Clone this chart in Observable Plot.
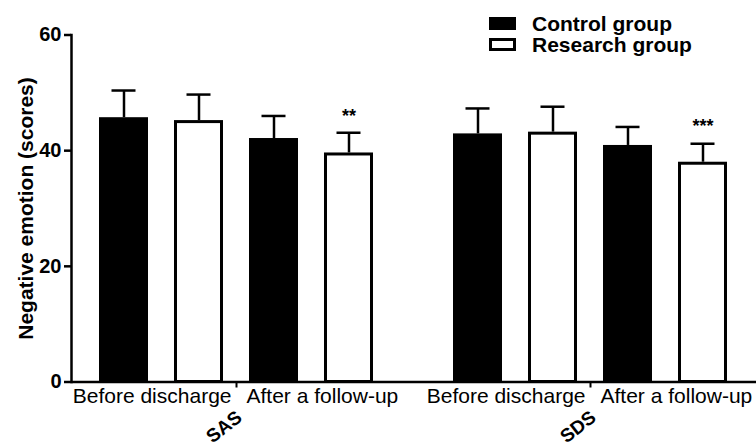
<!DOCTYPE html>
<html><head><meta charset="utf-8">
<script src="https://cdn.jsdelivr.net/npm/d3@7"></script>
<script src="https://cdn.jsdelivr.net/npm/@observablehq/plot@0.6"></script>
<style>
html,body{margin:0;padding:0;background:#fff;overflow:hidden}
#wrap{position:relative;width:756px;height:447px;font-family:"Liberation Sans",Arial,Helvetica,sans-serif}
#legend{position:absolute;left:489px;top:13px;font-size:21px;font-weight:bold;line-height:21px;color:#000}
.row{display:flex;align-items:center;height:21px;white-space:nowrap}
.sw{width:27px;height:13px;box-sizing:border-box;margin-right:16px;border:3px solid #000}
</style></head><body>
<div id="wrap"><div id="legend"></div></div>
<script>
// ---- data ----
const scales = ["SAS", "SDS"];
const times = ["Before discharge", "After a follow-up"];
const groups = ["Control group", "Research group"];
const groupFill = ["black", "white"];
// order within each scale: Before/Control, Before/Research, After/Control, After/Research
const sasMean = [45.7, 45.2, 42.1, 39.6];
const sasSD = [4.7, 4.5, 3.9, 3.5];
const sdsMean = [42.9, 43.2, 40.9, 38.0];
const sdsSD = [4.4, 4.4, 3.2, 3.2];
const sasSig = ["", "", "", "**"];
const sdsSig = ["", "", "", "***"];
const yTicks = [0, 20, 40, 60];
const yTitle = "Negative emotion (scores)";

const means = [sasMean, sdsMean], sds = [sasSD, sdsSD], sigs = [sasSig, sdsSig];
const rows = [];
scales.forEach((s, si) => {
  times.forEach((t, ti) => groups.forEach((g, gi) => {
    const k = ti * 2 + gi;
    rows.push({scale: s, time: t, group: g, key: t + "|" + g,
      mean: means[si][k], sd: sds[si][k], sig: sigs[si][k]});
  }));
});
const keys = rows.filter(d => d.scale === scales[0]).map(d => d.key);
const font = '"Liberation Sans", Arial, Helvetica, sans-serif';

const chart = Plot.plot({
  width: 756, height: 447,
  marginLeft: 70, marginRight: 0, marginTop: 34.5, marginBottom: 65.5,
  style: {fontFamily: font, background: "white", color: "black", overflow: "visible"},
  fx: {domain: scales, paddingInner: 0.067, paddingOuter: 0, axis: null},
  x: {domain: keys, padding: 0.345, axis: null},
  y: {domain: [0, 60]},
  color: {domain: groups, range: groupFill},
  marks: [
    Plot.barY(rows, {fx: "scale", x: "key", y: "mean", fill: "group", stroke: "black",
      strokeWidth: 3, insetLeft: 1.5, insetRight: 1.5, insetTop: 1.5}),
    Plot.ruleX(rows, {fx: "scale", x: "key", y1: "mean", y2: d => d.mean + d.sd, stroke: "black", strokeWidth: 2.5}),
    Plot.tickY(rows, {fx: "scale", x: "key", y: d => d.mean + d.sd, insetLeft: 12.5, insetRight: 12.5, stroke: "black", strokeWidth: 2.5}),
    Plot.text(rows.filter(d => d.sig), {fx: "scale", x: "key", y: d => d.mean + d.sd, text: "sig",
      dy: -17, fontSize: 18, fontWeight: "bold"}),
    Plot.ruleY([0], {insetRight: -24, stroke: "black", strokeWidth: 2.5}),
    Plot.frame({anchor: "left", fx: () => scales[0], stroke: "black", strokeWidth: 2.5}),
    Plot.axisY({ticks: yTicks, tickSize: 7, tickPadding: 3, fontSize: 20, fontWeight: "bold",
      strokeWidth: 2.5, label: null}),
    Plot.axisFx({anchor: "bottom", tickSize: 6, tickFormat: () => "", label: null, strokeWidth: 2}),
    Plot.text(scales, {fx: d => d, text: () => times[0], frameAnchor: "bottom", textAnchor: "end",
      lineAnchor: "top", dx: -5, dy: 6.5, fontSize: 21}),
    Plot.text(scales, {fx: d => d, text: () => times[1], frameAnchor: "bottom", textAnchor: "start",
      lineAnchor: "top", dx: 10, dy: 6.5, fontSize: 21}),
    Plot.text(scales, {fx: d => d, text: d => d, frameAnchor: "bottom", rotate: -38, textAnchor: "end",
      lineAnchor: "middle", dx: 3, dy: 33, fontSize: 19, fontWeight: "bold"}),
    Plot.text([yTitle], {fx: () => scales[0], text: d => d, frameAnchor: "left", rotate: -90,
      textAnchor: "middle", lineAnchor: "middle", dx: -45, fontSize: 21, fontWeight: "bold"})
  ]
});
document.getElementById("wrap").prepend(chart);

const legend = document.getElementById("legend");
groups.forEach((g, i) => {
  const row = document.createElement("div");
  row.className = "row";
  const sw = document.createElement("span");
  sw.className = "sw";
  sw.style.background = groupFill[i];
  const label = document.createElement("span");
  label.textContent = g;
  row.append(sw, label);
  legend.append(row);
});
</script>
</body></html>
